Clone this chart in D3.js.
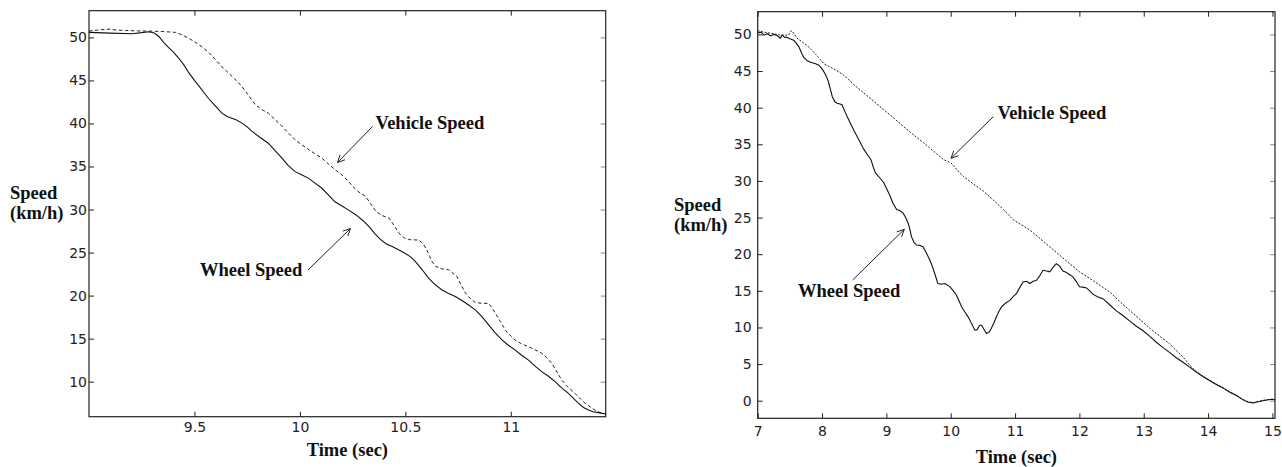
<!DOCTYPE html>
<html><head><meta charset="utf-8">
<script src="https://cdn.jsdelivr.net/npm/d3@7"></script>
<style>
html,body{margin:0;padding:0;background:#fff;}
svg{display:block;}
.tick text{font-family:"DejaVu Sans",sans-serif;font-size:14px;fill:#222;}
.lbl{font-family:"Liberation Serif","Times New Roman",serif;font-weight:bold;font-size:18.5px;fill:#111;}
</style></head>
<body>
<svg id="c" width="1282" height="467"></svg>
<script>
// ---------- DATA ----------
const leftXTicks = [9.5, 10, 10.5, 11];
const leftYTicks = [10, 15, 20, 25, 30, 35, 40, 45, 50];
const rightXTicks = [7, 8, 9, 10, 11, 12, 13, 14, 15];
const rightYTicks = [0, 5, 10, 15, 20, 25, 30, 35, 40, 45, 50];

const leftWheel = [[9.00,50.58],[9.10,50.5],[9.205,50.43],[9.25,50.55],[9.284,50.66],[9.31,50.5],[9.331,50.1],[9.355,49.4],[9.378,48.8],[9.40,48.3],[9.425,47.6],[9.45,46.8],[9.473,45.9],[9.50,45.0],[9.52,44.4],[9.545,43.6],[9.567,42.9],[9.60,42.0],[9.63,41.2],[9.655,40.8],[9.677,40.6],[9.70,40.4],[9.725,40.04],[9.75,39.6],[9.772,39.1],[9.81,38.4],[9.85,37.7],[9.88,36.9],[9.914,36.0],[9.945,35.1],[9.977,34.4],[10.01,34.0],[10.04,33.65],[10.07,33.1],[10.103,32.5],[10.135,31.7],[10.166,30.9],[10.2,30.4],[10.229,29.96],[10.265,29.4],[10.30,28.7],[10.328,28.0],[10.355,27.2],[10.383,26.5],[10.41,26.0],[10.438,25.7],[10.47,25.3],[10.5,24.9],[10.525,24.5],[10.548,23.95],[10.58,23.0],[10.611,22.0],[10.64,21.3],[10.674,20.65],[10.705,20.25],[10.737,19.9],[10.77,19.4],[10.8,18.9],[10.832,18.35],[10.865,17.5],[10.895,16.6],[10.925,15.7],[10.958,14.85],[10.99,14.2],[11.02,13.7],[11.05,13.1],[11.084,12.5],[11.115,11.8],[11.147,11.16],[11.18,10.6],[11.21,10.0],[11.24,9.3],[11.273,8.65],[11.30,8.0],[11.32,7.5],[11.345,7.0],[11.368,6.7],[11.39,6.5],[11.415,6.4],[11.45,6.25]];

const leftVehicle = [[9.00,50.73],[9.04,50.85],[9.095,50.96],[9.13,50.85],[9.173,50.8],[9.23,50.75],[9.284,50.73],[9.35,50.68],[9.41,50.58],[9.44,50.3],[9.473,49.9],[9.50,49.5],[9.536,48.9],[9.57,48.2],[9.60,47.4],[9.63,46.6],[9.66,45.9],[9.69,45.2],[9.725,44.3],[9.755,43.3],[9.788,42.2],[9.82,41.6],[9.85,41.2],[9.88,40.5],[9.914,39.7],[9.945,38.9],[9.977,38.1],[10.01,37.5],[10.04,37.0],[10.07,36.5],[10.103,36.0],[10.135,35.3],[10.166,34.65],[10.2,34.0],[10.229,33.3],[10.25,32.7],[10.276,32.1],[10.30,31.7],[10.312,31.5],[10.335,30.7],[10.36,29.8],[10.39,29.3],[10.423,29.0],[10.445,28.2],[10.47,27.25],[10.495,26.7],[10.52,26.5],[10.565,26.45],[10.59,25.8],[10.61,24.9],[10.625,24.0],[10.643,23.4],[10.675,23.1],[10.706,23.0],[10.745,22.2],[10.765,21.2],[10.785,20.3],[10.81,19.6],[10.832,19.2],[10.865,19.1],[10.895,19.1],[10.91,18.6],[10.927,17.95],[10.95,17.0],[10.974,16.0],[11.0,15.3],[11.02,14.85],[11.05,14.4],[11.084,14.07],[11.115,13.7],[11.147,13.3],[11.17,12.8],[11.194,12.14],[11.22,11.1],[11.241,10.2],[11.27,9.4],[11.304,8.65],[11.33,8.0],[11.352,7.5],[11.38,7.0],[11.399,6.7],[11.42,6.45],[11.45,6.25]];

const rightWheel = [[7.0,50.2],[7.05,50.3],[7.1,49.9],[7.15,50.1],[7.2,49.8],[7.25,50.0],[7.3,49.85],[7.35,49.5],[7.38,49.9],[7.42,49.6],[7.455,49.6],[7.5,49.4],[7.56,49.2],[7.6,48.8],[7.64,48.3],[7.68,47.5],[7.714,46.9],[7.77,46.4],[7.82,46.2],[7.9,46.0],[7.95,45.8],[8.0,45.3],[8.05,44.6],[8.08,44.0],[8.1,43.5],[8.13,42.5],[8.16,41.5],[8.2,40.8],[8.235,40.6],[8.28,40.5],[8.31,40.4],[8.35,39.6],[8.39,38.8],[8.45,37.7],[8.5,36.8],[8.58,35.5],[8.65,34.3],[8.72,33.4],[8.76,32.9],[8.8,31.8],[8.83,31.1],[8.9,30.4],[8.96,29.75],[9.0,29.0],[9.06,27.9],[9.1,27.0],[9.16,26.1],[9.2,26.0],[9.26,25.6],[9.3,25.0],[9.34,24.2],[9.37,23.2],[9.39,22.4],[9.43,21.6],[9.47,21.25],[9.52,21.2],[9.57,21.0],[9.62,20.2],[9.675,19.2],[9.72,18.2],[9.75,17.4],[9.8,16.0],[9.85,15.9],[9.91,16.0],[9.99,15.55],[10.05,14.9],[10.09,14.4],[10.13,13.6],[10.17,12.8],[10.22,12.1],[10.27,11.45],[10.32,10.6],[10.374,9.63],[10.41,9.7],[10.45,10.3],[10.48,10.3],[10.52,9.7],[10.556,9.17],[10.6,9.4],[10.63,9.85],[10.67,10.6],[10.71,11.45],[10.75,12.2],[10.79,12.8],[10.85,13.3],[10.92,13.7],[10.97,14.2],[11.02,14.6],[11.07,15.4],[11.124,16.2],[11.18,16.3],[11.23,16.0],[11.28,16.3],[11.33,16.4],[11.38,17.0],[11.434,17.8],[11.49,17.7],[11.54,17.6],[11.59,18.2],[11.64,18.7],[11.69,18.4],[11.745,17.7],[11.8,17.5],[11.85,17.2],[11.9,16.9],[11.95,16.3],[12.0,15.55],[12.05,15.5],[12.11,15.4],[12.16,15.0],[12.21,14.55],[12.28,14.2],[12.37,13.9],[12.47,13.1],[12.57,12.3],[12.68,11.6],[12.78,10.9],[12.88,10.2],[12.99,9.55],[13.1,8.75],[13.2,7.95],[13.3,7.25],[13.4,6.6],[13.5,5.9],[13.61,5.25],[13.72,4.55],[13.82,3.88],[13.92,3.3],[14.02,2.75],[14.12,2.25],[14.23,1.75],[14.33,1.2],[14.44,0.7],[14.52,0.25],[14.57,0.0],[14.63,-0.2],[14.7,-0.3],[14.78,-0.15],[14.85,0.0],[14.92,0.1],[15.0,0.2],[15.04,0.1]];

const rightVehicle = [[7.0,50.5],[7.1,50.3],[7.25,50.1],[7.35,49.9],[7.48,49.9],[7.52,50.5],[7.54,50.4],[7.61,49.5],[7.7,48.9],[7.77,48.5],[7.9,47.3],[8.03,46.0],[8.18,45.3],[8.33,44.5],[8.5,43.1],[8.65,42.0],[8.8,40.9],[8.96,39.7],[9.1,38.7],[9.27,37.4],[9.42,36.3],[9.58,35.2],[9.74,34.0],[9.89,32.9],[10.0,32.5],[10.1,31.5],[10.2,30.6],[10.35,29.6],[10.51,28.6],[10.66,27.4],[10.82,26.1],[10.97,24.7],[11.1,24.0],[11.23,23.3],[11.38,22.2],[11.54,21.0],[11.7,19.8],[11.85,18.7],[12.0,17.6],[12.16,16.7],[12.31,15.8],[12.47,14.85],[12.62,13.6],[12.78,12.35],[12.94,11.1],[13.1,9.85],[13.25,8.8],[13.4,7.8],[13.5,6.9],[13.61,5.98],[13.72,4.8],[13.82,3.95],[13.92,3.35],[14.02,2.8],[14.12,2.3],[14.23,1.8],[14.33,1.25],[14.44,0.75],[14.52,0.3],[14.57,0.05],[14.63,-0.15],[14.7,-0.25],[14.78,-0.1],[14.85,0.05],[14.92,0.15],[15.0,0.2],[15.04,0.15]];

// ---------- LAYOUT ----------
const svg = d3.select("#c");

function panel(cfg){
  const x = d3.scaleLinear().domain(cfg.xd).range([cfg.l, cfg.r]);
  const y = d3.scaleLinear().domain(cfg.yd).range([cfg.b, cfg.t]);
  const g = svg.append("g");
  const tl = 5;
  // axes
  const ax = (gen, tr, cls) => {
    const a = g.append("g").attr("transform", tr).call(gen);
    a.select(".domain").remove();
    a.selectAll(".tick line").attr("stroke", "#222").attr("stroke-width", 1);
    return a;
  };
  ax(d3.axisBottom(x).tickValues(cfg.xt).tickSize(-tl).tickPadding(cfg.xpad).tickFormat(d3.format("")), `translate(0,${cfg.b})`)
    .selectAll("text").attr("dy", "0.71em");
  ax(d3.axisTop(x).tickValues(cfg.xt).tickSize(-tl).tickFormat(""), `translate(0,${cfg.t})`);
  ax(d3.axisLeft(y).tickValues(cfg.yt).tickSize(-tl).tickPadding(cfg.ypad).tickFormat(d3.format("")), `translate(${cfg.l},0)`);
  ax(d3.axisRight(y).tickValues(cfg.yt).tickSize(-tl).tickFormat(""), `translate(${cfg.r},0)`)
    .selectAll(".tick line").attr("stroke", "#888");
  if (cfg.hideFirstX) {}
  // lines
  const clipId = "clip" + cfg.id;
  svg.append("clipPath").attr("id", clipId).append("rect")
    .attr("x", cfg.l).attr("y", cfg.t).attr("width", cfg.r - cfg.l).attr("height", cfg.b - cfg.t);
  const line = d3.line().x(d => x(d[0])).y(d => y(d[1])).curve(d3.curveLinear);
  g.append("path").datum(cfg.veh).attr("d", line).attr("fill", "none")
    .attr("stroke", "#222").attr("stroke-width", 1).attr("stroke-dasharray", cfg.dash)
    .attr("clip-path", `url(#${clipId})`);
  g.append("path").datum(cfg.wheel).attr("d", line).attr("fill", "none")
    .attr("stroke", "#111").attr("stroke-width", 1.1)
    .attr("clip-path", `url(#${clipId})`);
  // box
  g.append("rect").attr("x", cfg.l).attr("y", cfg.t).attr("width", cfg.r - cfg.l).attr("height", cfg.b - cfg.t)
    .attr("fill", "none").attr("stroke", "#222").attr("stroke-width", 1.2);
  // labels
  g.append("text").attr("class", "lbl").attr("x", cfg.sx).attr("y", cfg.sy).text("Speed");
  g.append("text").attr("class", "lbl").attr("x", cfg.sx).attr("y", cfg.sy + 19.5).text("(km/h)");
  g.append("text").attr("class", "lbl").attr("x", (cfg.l + cfg.r) / 2).attr("y", cfg.ty)
    .attr("text-anchor", "middle").text("Time (sec)");
  g.append("text").attr("class", "lbl").attr("x", cfg.vx).attr("y", cfg.vy).text("Vehicle Speed");
  g.append("text").attr("class", "lbl").attr("x", cfg.wx).attr("y", cfg.wy).text("Wheel Speed");
  // arrows
  cfg.arrows.forEach(a => {
    const [x1, y1, x2, y2] = a;
    const ang = Math.atan2(y2 - y1, x2 - x1), L = 8, h = 0.45;
    const p1 = [x2 - L * Math.cos(ang - h), y2 - L * Math.sin(ang - h)];
    const p2 = [x2 - L * Math.cos(ang + h), y2 - L * Math.sin(ang + h)];
    g.append("path").attr("d", `M${x1},${y1}L${x2},${y2}M${p1[0]},${p1[1]}L${x2},${y2}L${p2[0]},${p2[1]}`)
      .attr("fill", "none").attr("stroke", "#222").attr("stroke-width", 1);
  });
}

panel({id: "L", xd: [9.0, 11.45], yd: [5.93, 53.1], l: 89, r: 605.7, t: 10.7, b: 416.7,
  xt: leftXTicks, yt: leftYTicks, xpad: 5, ypad: 2, dash: "3.5,2.5",
  wheel: leftWheel, veh: leftVehicle,
  sx: 10, sy: 199, ty: 455.5, vx: 375.5, vy: 129, wx: 200, wy: 275.5,
  arrows: [[372.5, 126.5, 337.5, 162.5], [308, 270, 350.5, 228.5]]});

panel({id: "R", xd: [7, 15.04], yd: [-2.4, 53.1], l: 757.7, r: 1275, t: 11.7, b: 418.3,
  xt: rightXTicks, yt: rightYTicks, xpad: 8, ypad: 6, dash: "2,1.5",
  wheel: rightWheel, veh: rightVehicle,
  sx: 674, sy: 211, ty: 463, vx: 997.5, vy: 119, wx: 798, wy: 296.5,
  arrows: [[993.3, 116.7, 951, 158.3], [852.7, 280, 904.3, 229.3]]});
</script>
</body></html>
